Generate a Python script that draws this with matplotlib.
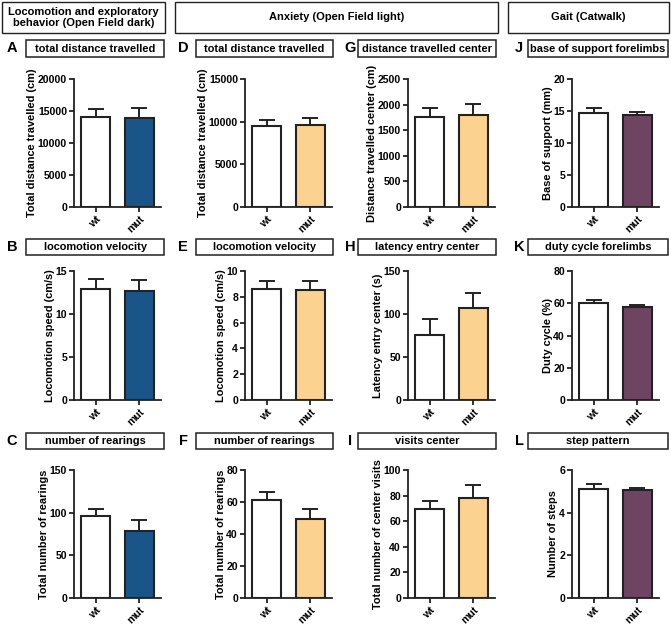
import matplotlib
matplotlib.use("Agg")
import matplotlib.pyplot as plt
from matplotlib.patches import Rectangle

plt.rcParams['font.family'] = ['Liberation Sans', 'DejaVu Sans']
plt.rcParams['font.weight'] = 'bold'

W, H = 671, 627
groups = ["wt", "mut"]

# panel data: means and SEM (upper error)
panel_letters = ["A", "B", "C", "D", "E", "F", "G", "H", "I", "J", "K", "L"]
panel_titles = ["total distance travelled", "locomotion velocity", "number of rearings",
                "total distance travelled", "locomotion velocity", "number of rearings",
                "distance travelled center", "latency entry center", "visits center",
                "base of support forelimbs", "duty cycle forelimbs", "step pattern"]
ylabels = ["Total distance travelled (cm)", "Locomotion speed (cm/s)", "Total number of rearings",
           "Total distance travelled (cm)", "Locomotion speed (cm/s)", "Total number of rearings",
           "Distance travelled center (cm)", "Latency entry center (s)", "Total number of center visits",
           "Base of support (mm)", "Duty cycle (%)", "Number of steps"]
means = [[14130, 13970], [12.95, 12.67], [96.0, 78.7],
         [9530, 9570], [8.63, 8.50], [61.0, 49.3],
         [1766, 1799], [75.2, 107.0], [69.2, 78.3],
         [14.7, 14.44], [60.2, 57.9], [5.09, 5.05]]
sems = [[1140, 1460], [1.08, 1.28], [8.2, 12.6],
        [670, 820], [0.57, 0.72], [5.4, 6.1],
        [176, 220], [19.4, 17.8], [6.3, 9.7],
        [0.73, 0.36], [1.6, 0.8], [0.27, 0.12]]
yticks = [[0, 5000, 10000, 15000, 20000], [0, 5, 10, 15], [0, 50, 100, 150],
          [0, 5000, 10000, 15000], [0, 2, 4, 6, 8, 10], [0, 20, 40, 60, 80],
          [0, 500, 1000, 1500, 2000, 2500], [0, 50, 100, 150], [0, 20, 40, 60, 80, 100],
          [0, 5, 10, 15, 20], [0, 20, 40, 60, 80], [0, 2, 4, 6]]
headers = ["Locomotion and exploratory\nbehavior (Open Field dark)",
           "Anxiety (Open Field light)", "Gait (Catwalk)"]

col_colors = ["#1a5589", "#fbd28f", "#fbd28f", "#6f4462"]

fig = plt.figure(figsize=(W / 100, H / 100), dpi=100)


def fx(x):
    return x / W


def fy(y):
    return 1 - y / H


def box(x0, y0, x1, y1, lw=1.0):
    fig.patches.append(Rectangle((fx(x0), fy(y1)), fx(x1) - fx(x0), fy(y0) - fy(y1),
                                 transform=fig.transFigure, fill=False,
                                 edgecolor="#222222", lw=lw))


HF = 8.0
# header boxes
box(2, 2, 165, 33)
fig.text(fx((2 + 165) / 2), fy(17.5), headers[0], ha="center", va="center", fontsize=HF,
         fontweight="bold", linespacing=1.2)
box(175, 2, 498, 33)
fig.text(fx((175 + 498) / 2), fy(17.5), headers[1], ha="center", va="center", fontsize=HF,
         fontweight="bold")
box(508, 2, 669, 33)
fig.text(fx((508 + 669) / 2), fy(17.5), headers[2], ha="center", va="center", fontsize=HF,
         fontweight="bold")

col_left = [74, 245, 408, 572]
col_title = [(26, 164), (196, 333), (358, 496), (528, 668)]
col_letter = [12, 183, 350, 519]
row_top = [79, 271, 470]
row_bot = [207, 400, 598]
row_title = [(40, 57), (239, 255), (433, 449)]
axw = 87

for i in range(12):
    c, r = i // 3, i % 3
    left = col_left[c]
    ax = fig.add_axes([fx(left), fy(row_bot[r]), axw / W, (row_bot[r] - row_top[r]) / H])
    xs = [0, 1]
    ax.bar(xs, means[i], width=0.67, color=["white", col_colors[c]],
           edgecolor="#222222", linewidth=1.5, zorder=2)
    ax.errorbar(xs, means[i], yerr=[[0, 0], sems[i]], fmt="none", ecolor="#222222",
                elinewidth=1.4, capsize=5.5, capthick=1.4, zorder=1)
    ax.set_xlim(-0.5, 1.5)
    ax.set_ylim(0, yticks[i][-1])
    ax.set_yticks(yticks[i])
    ax.set_yticklabels([str(t) for t in yticks[i]], fontsize=7.6, fontweight="bold")
    ax.set_xticks(xs)
    ax.set_xticklabels(groups, rotation=45, ha="right", rotation_mode="anchor",
                       fontsize=7.6, fontweight="bold")
    for s in ["top", "right"]:
        ax.spines[s].set_visible(False)
    for s in ["left", "bottom"]:
        ax.spines[s].set_linewidth(1.3)
        ax.spines[s].set_color("#222222")
    ax.tick_params(axis="both", length=3.5, width=1.3, color="#222222", pad=1.5)
    ax.set_ylabel(ylabels[i], fontsize=7.9, fontweight="bold", labelpad=0.5)
    ax.patch.set_alpha(0)

    # panel title box and letter
    tx0, tx1 = col_title[c]
    ty0, ty1 = row_title[r]
    box(tx0, ty0, tx1, ty1, lw=1.1)
    fig.text(fx((tx0 + tx1) / 2), fy((ty0 + ty1) / 2), panel_titles[i], ha="center",
             va="center", fontsize=7.9, fontweight="bold")
    fig.text(fx(col_letter[c]), fy((ty0 + ty1) / 2), panel_letters[i], ha="center",
             va="center", fontsize=10.5, fontweight="bold")

fig.savefig("out.png", dpi=100, facecolor="white")
